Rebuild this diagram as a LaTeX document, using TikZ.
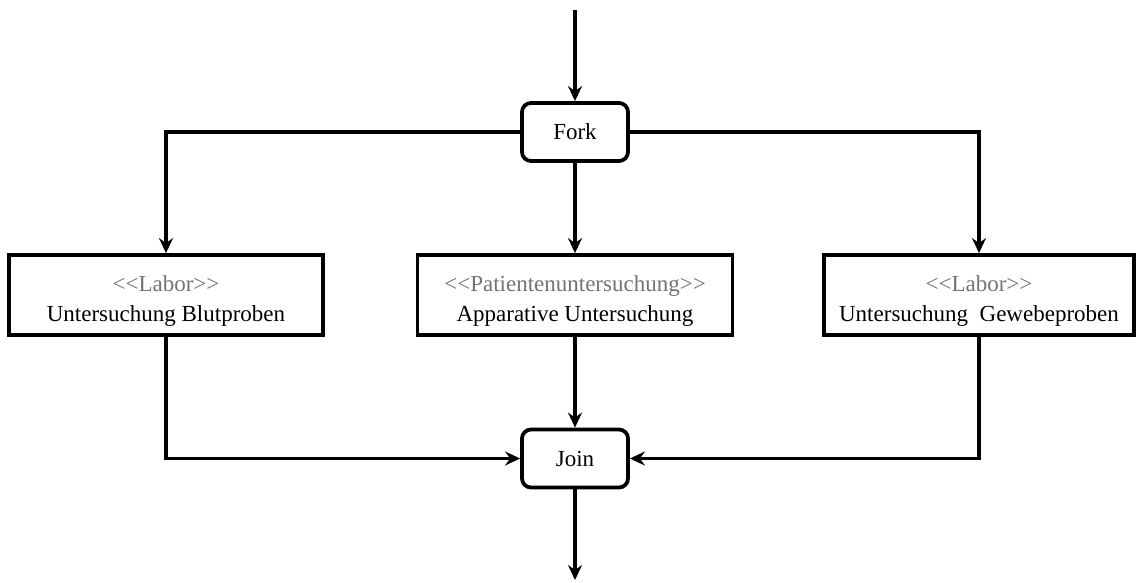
\documentclass[tikz,border=0pt]{standalone}
\usepackage{fontspec}
\setmainfont{Liberation Serif}
\usetikzlibrary{arrows.meta}
\definecolor{stereo}{gray}{0.45}
\newcommand{\stereotype}[1]{\rule{0pt}{27pt}\textcolor{stereo}{<{}<#1>{}>}}
\tikzset{
  flow/.style={line width=3.5pt, -{Stealth[length=15pt,width=14pt,inset=5pt]}},
  ctrl/.style={draw, line width=3.8pt, rounded corners=9pt, minimum width=106pt, minimum height=58pt, inner sep=0pt, font=\fontsize{23}{27}\selectfont},
  action/.style={draw, line width=3.8pt, minimum height=80pt, inner sep=0pt, align=center, font=\fontsize{23}{30}\selectfont},
}
\begin{document}
\begin{tikzpicture}[x=1pt,y=-1pt]
\useasboundingbox (0,0) rectangle (1141,583);
\node[ctrl] (fork) at (575,132) {Fork};
\node[ctrl] (join) at (575,458.5) {Join};
\node[action, minimum width=314pt] (lab1) at (166,295) {\stereotype{Labor}\\Untersuchung Blutproben};
\node[action, minimum width=315pt] (pat) at (575,295) {\stereotype{Patientenuntersuchung}\\Apparative Untersuchung};
\node[action, minimum width=310pt] (lab2) at (979,295) {\stereotype{Labor}\\Untersuchung\ \ Gewebeproben};
\coordinate (in) at (575,10);
\coordinate (out) at (575,580);
\draw[flow] (in) -- (fork.north);
\draw[flow] (fork.west) -| (lab1.north);
\draw[flow] (fork.south) -- (pat.north);
\draw[flow] (fork.east) -| (lab2.north);
\draw[flow] (lab1.south) |- (join.west);
\draw[flow] (pat.south) -- (join.north);
\draw[flow] (lab2.south) |- (join.east);
\draw[flow] (join.south) -- (out);
\end{tikzpicture}
\end{document}
